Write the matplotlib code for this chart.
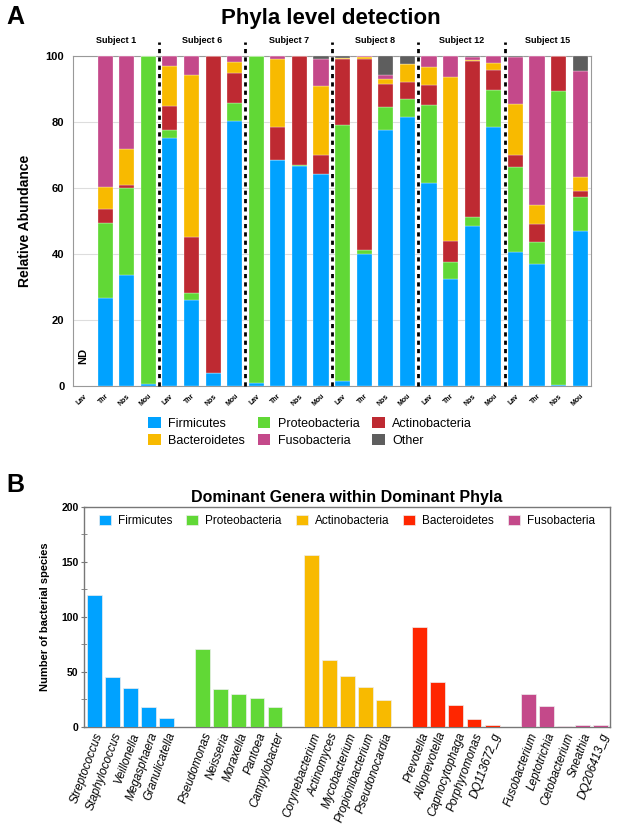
import numpy as np
import matplotlib
matplotlib.use('Agg')
import matplotlib.pyplot as plt
from matplotlib.patches import Patch

plt.rcParams['font.family'] = ['Liberation Sans', 'DejaVu Sans']

# Panel A - relative abundance per sample (%)
subjects = ['Subject 1', 'Subject 6', 'Subject 7', 'Subject 8', 'Subject 12', 'Subject 15']
sites = ['Lav', 'Thr', 'Nos', 'Mou']

firmicutes = [0, 26.6, 33.6, 0.5,   75, 26, 4, 80.1,   0.7, 68.4, 66.4, 64.1,
              1.5, 40, 77.4, 81.5,  61.4, 32.2, 48.5, 78.5,  40.4, 37, 0.3, 47]
proteobacteria = [0, 22.8, 26.2, 99.2,  2.3, 2.1, 0, 5.5,  99.1, 0, 0.3, 0,
                  77.5, 1.2, 7.0, 5.4,  23.6, 5.3, 2.7, 11.2,  25.8, 6.4, 89.1, 10.2]
actinobacteria = [0, 4.0, 1.0, 0,  7.4, 16.9, 96, 9.2,  0, 9.8, 33.0, 5.8,
                  19.9, 57.6, 7.0, 5.1,  6.0, 6.3, 47.1, 5.8,  3.7, 5.7, 10.6, 1.7]
bacteroidetes = [0, 6.7, 10.8, 0,  12.1, 49, 0, 3.2,  0.2, 20.8, 0.3, 20.8,
                 0.3, 0.6, 1.5, 5.5,  5.5, 49.6, 0.4, 2.2,  15.3, 5.5, 0, 4.4]
fusobacteria = [0, 39.9, 28.4, 0.3,  3.2, 6, 0, 2.0,  0, 0.7, 0, 8.1,
                0, 0.3, 1.1, 0,  3.5, 6.6, 0.8, 2.3,  14.3, 45.4, 0, 32.1]
other = [0, 0, 0, 0,  0, 0, 0, 0,  0, 0.3, 0, 1.2,
         0.8, 0.3, 6.0, 2.5,  0, 0, 0.5, 0,  0.5, 0, 0, 4.6]

phyla_a = ['Firmicutes', 'Proteobacteria', 'Actinobacteria', 'Bacteroidetes', 'Fusobacteria', 'Other']
colors_a = ['#00A2FF', '#61D836', '#BE2A32', '#F8BA00', '#C4498A', '#5E5E5E']

# Panel B - number of species per genus
genera_firm = ['Streptococcus', 'Staphylococcus', 'Veillonella', 'Megasphaera', 'Granulicatella']
counts_firm = [120, 45, 35, 18, 8]
genera_prot = ['Pseudomonas', 'Neisseria', 'Moraxella', 'Pantoea', 'Campylobacter']
counts_prot = [71, 34, 30, 26, 18]
genera_acti = ['Corynebacterium', 'Actinomyces', 'Mycobacterium', 'Propionibacterium', 'Pseudonocardia']
counts_acti = [156, 61, 46, 36, 24]
genera_bact = ['Prevotella', 'Alloprevotella', 'Capnocytophaga', 'Porphyromonas', 'DQ113672_g']
counts_bact = [91, 41, 20, 7, 2]
genera_fuso = ['Fusobacterium', 'Leptotrichia', 'Cetobacterium', 'Sneathia', 'DQ206413_g']
counts_fuso = [30, 19, 1, 2, 2]

groups_b = ['Firmicutes', 'Proteobacteria', 'Actinobacteria', 'Bacteroidetes', 'Fusobacteria']
colors_b = ['#00A2FF', '#61D836', '#F8BA00', '#FF2600', '#C4498A']

fig = plt.figure(figsize=(6.24, 8.26), dpi=100)

# ---------- Panel A ----------
axA = fig.add_axes([0.1165, 0.533, 0.8306, 0.3998])
x = np.arange(len(firmicutes))
bottom = np.zeros(len(x))
for vals, col in zip([firmicutes, proteobacteria, actinobacteria, bacteroidetes, fusobacteria, other], colors_a):
    axA.bar(x, vals, bottom=bottom, width=0.7, color=col, edgecolor='white', linewidth=0.2, zorder=3)
    bottom += np.array(vals)

axA.set_xlim(-0.5, len(x) - 0.5)
axA.set_ylim(0, 100)
axA.set_yticks([0, 20, 40, 60, 80, 100])
axA.set_yticklabels(['0', '20', '40', '60', '80', '100'], fontsize=8, fontweight='bold')
axA.tick_params(axis='y', length=0, pad=6)
axA.yaxis.grid(True, color='#DDDDDD', lw=0.8, zorder=0)
axA.set_xticks(x)
axA.set_xticklabels(sites * len(subjects), rotation=45, fontsize=5, fontweight='bold',
                    ha='right', rotation_mode='anchor')
axA.tick_params(axis='x', length=0, pad=5)
for s in axA.spines.values():
    s.set_color('#999999')
    s.set_linewidth(0.8)
axA.set_ylabel('Relative Abundance', fontsize=10, fontweight='bold', labelpad=10)

for i, subj in enumerate(subjects):
    axA.text(4 * i + 1.5, 104.5, subj, ha='center', va='center', fontsize=6.5,
             fontweight='bold', clip_on=False)
    if i > 0:
        axA.plot([4 * i - 0.5, 4 * i - 0.5], [0, 104], color='black', lw=2,
                 linestyle=(0, (1.5, 1.5)), clip_on=False, zorder=5)
axA.text(0, 9, 'ND', rotation=90, ha='center', va='center', fontsize=8, fontweight='bold')

handles = [Patch(facecolor=c, label=p) for p, c in zip(phyla_a, colors_a)]
order = [0, 3, 1, 4, 2, 5]
fig.legend([handles[k] for k in order], [phyla_a[k] for k in order], ncol=3,
           loc='center', bbox_to_anchor=(0.497, 0.477), frameon=False, fontsize=9,
           handlelength=1.0, handleheight=1.0, handletextpad=0.6, columnspacing=1.0,
           labelspacing=0.3)

fig.text(0.53, 0.977, 'Phyla level detection', ha='center', va='center', fontsize=16, fontweight='bold')
fig.text(0.025, 0.979, 'A', ha='center', va='center', fontsize=18, fontweight='bold')

# ---------- Panel B ----------
axB = fig.add_axes([0.135, 0.12, 0.842, 0.2667])
all_genera = [genera_firm, genera_prot, genera_acti, genera_bact, genera_fuso]
all_counts = [counts_firm, counts_prot, counts_acti, counts_bact, counts_fuso]
pos = []
names = []
for g, (gen, cnt, col, lab) in enumerate(zip(all_genera, all_counts, colors_b, groups_b)):
    xp = np.arange(len(gen)) + g * 6
    axB.bar(xp, cnt, width=0.82, color=col, edgecolor='#EEEEEE', linewidth=0.5, label=lab, zorder=3)
    pos.extend(xp)
    names.extend(gen)

axB.set_xlim(-0.55, 28.5)
axB.set_ylim(0, 200)
axB.set_yticks([0, 50, 100, 150, 200])
axB.set_yticks([25, 75, 125, 175], minor=True)
axB.set_yticklabels(['0', '50', '100', '150', '200'], fontsize=7.5, fontweight='bold')
axB.tick_params(axis='y', which='both', direction='inout', length=4, color='#777777', pad=2)
axB.set_xticks(pos)
axB.set_xticklabels(names, rotation=70, fontsize=8.5, fontstyle='italic',
                    ha='right', rotation_mode='anchor')
axB.tick_params(axis='x', length=0, pad=3)
for s in axB.spines.values():
    s.set_color('#777777')
    s.set_linewidth(1.0)
axB.set_ylabel('Number of bacterial species', fontsize=8, fontweight='bold', labelpad=8)
axB.legend(loc='upper center', ncol=5, frameon=False, fontsize=8.5, handlelength=1.0,
           handleheight=1.0, handletextpad=0.6, columnspacing=1.2, borderaxespad=0.3)

fig.text(0.555, 0.398, 'Dominant Genera within Dominant Phyla', ha='center', va='center',
         fontsize=11.5, fontweight='bold')
fig.text(0.025, 0.413, 'B', ha='center', va='center', fontsize=18, fontweight='bold')

fig.savefig('out.png', dpi=100)
